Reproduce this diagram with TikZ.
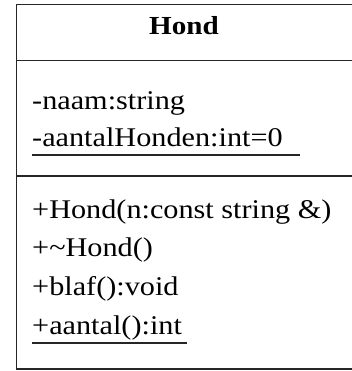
\documentclass[tikz,border=0pt]{standalone}
\usepackage{fontspec}
\setmainfont[FakeStretch=1.12]{Liberation Serif}
\tikzset{
  umltext/.style={anchor=base west,inner sep=0pt,font=\fontsize{27}{32}\selectfont},
  umltitle/.style={anchor=base,inner sep=0pt,font=\fontsize{26}{32}\selectfont\bfseries},
  frame/.style={line width=1.8pt,draw=black!85},
  uline/.style={line width=1.6pt,draw=black!85}
}
\begin{document}
\begin{tikzpicture}[x=1pt,y=-1pt]
\useasboundingbox (0,0) rectangle (352,371);
\fill[white] (0,0) rectangle (352,371);
\coordinate (tl) at (16.5,4.5);
\coordinate (br) at (372,369);
\draw[frame] (tl) rectangle (br);
\coordinate (s1l) at (16.5,60.5);
\coordinate (s1r) at (372,60.5);
\coordinate (s2l) at (16.5,176);
\coordinate (s2r) at (372,176);
\draw[frame] (s1l) -- (s1r);
\draw[frame] (s2l) -- (s2r);
\node[umltitle] (title) at (184,35) {Hond};
\node[umltext] (a1) at (32,110) {-naam:string};
\node[umltext] (a2) at (32,147) {-aantalHonden:int=0};
\node[umltext] (o1) at (32,218) {+Hond(n:const string \&)};
\node[umltext] (o2) at (32,256) {+\char"007E Hond()};
\node[umltext] (o3) at (32,295) {+blaf():void};
\node[umltext] (o4) at (32,334) {+aantal():int};
\coordinate (u1a) at (32,155);
\coordinate (u1b) at (300,155);
\coordinate (u2a) at (32,343);
\coordinate (u2b) at (187,343);
\draw[uline] (u1a) -- (u1b);
\draw[uline] (u2a) -- (u2b);
\end{tikzpicture}
\end{document}
